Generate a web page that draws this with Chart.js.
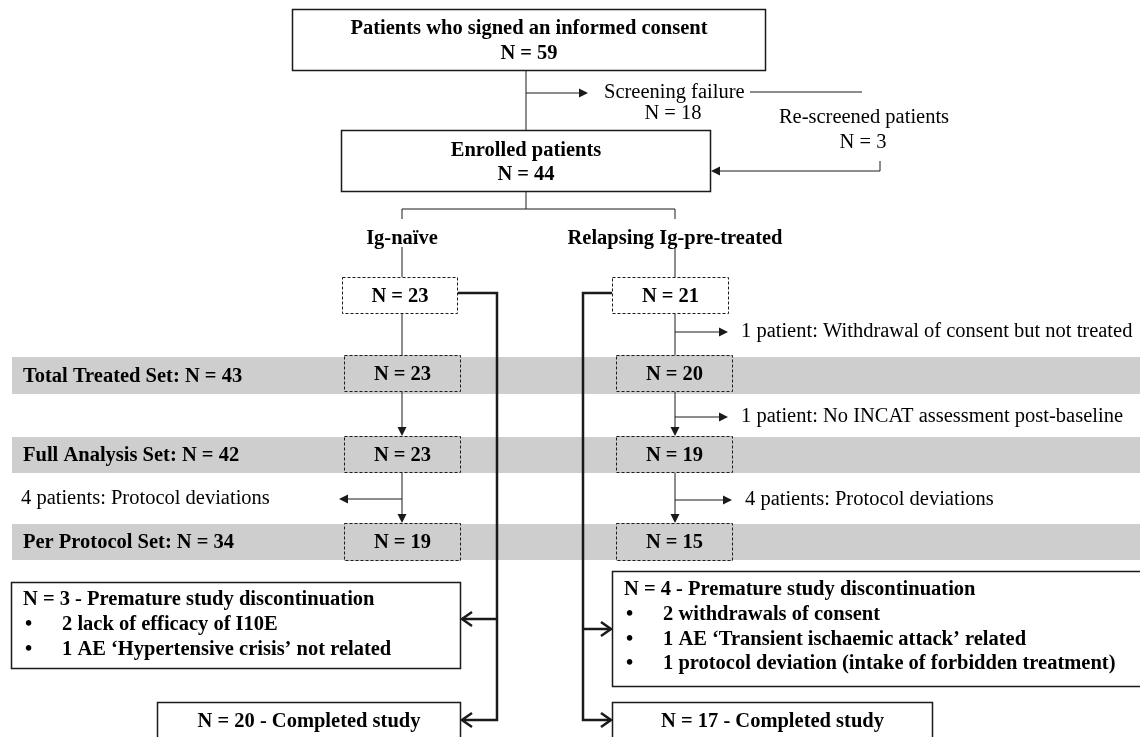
<!DOCTYPE html>
<html>
<head>
<meta charset="utf-8">
<script src="https://cdn.jsdelivr.net/npm/chart.js@4.4.1/dist/chart.umd.min.js"></script>
<style>
  html, body { margin: 0; padding: 0; background: #fff; }
  #wrap { width: 1140px; height: 737px; }
</style>
</head>
<body>
<div id="wrap"><canvas id="flow" width="1140" height="737"></canvas></div>
<script>
// Patient flow numbers
const consentedN = 59;
const screeningFailureN = 18;
const rescreenedN = 3;
const enrolledN = 44;

const arms = ['Ig-naïve', 'Relapsing Ig-pre-treated'];
const armStartN = [23, 21];

const analysisSets = ['Total Treated Set', 'Full Analysis Set', 'Per Protocol Set'];
const analysisSetTotals = [43, 42, 34];
const naiveSetN = [23, 23, 19];
const pretreatedSetN = [20, 19, 15];

// exclusions before each analysis set (null = none)
const naiveExclusions = [null, null, '4 patients: Protocol deviations'];
const pretreatedExclusions = [
  '1 patient: Withdrawal of consent but not treated',
  '1 patient: No INCAT assessment post-baseline',
  '4 patients: Protocol deviations'
];

const discontinuedN = [3, 4];
const naiveReasons = ['2 lack of efficacy of I10E', '1 AE \u2018Hypertensive crisis\u2019 not related'];
const pretreatedReasons = [
  '2 withdrawals of consent',
  '1 AE \u2018Transient ischaemic attack\u2019 related',
  '1 protocol deviation (intake of forbidden treatment)'
];
const completedN = [20, 17];

// Layout (value space of the x/y scales, 0..1140 by 0..737)
const layout = {
  topBox: [292, 9, 766, 71],
  enrolledBox: [341, 130, 711, 192],
  trunkX: 526,
  screenY: 93,
  splitY: 209,
  armX: [402, 675],
  armLabelY: 239,
  armStartBox: [[342, 277, 458, 314], [612, 277, 729, 314]],
  setBoxX: [[344, 461], [616, 733]],
  setRows: [[355, 392], [436, 473], [523, 561]],
  bandRows: [[357, 394], [437, 473], [524, 560]],
  naiveExclY: [null, null, 499],
  pretreatedExclY: [332, 417, 500],
  discBox: [[11, 582, 461, 669], [612, 571, 1150, 687]],
  completedBox: [[157, 702, 461, 750], [612, 702, 933, 750]],
  thickX: [497, 583],
  discArrowY: [619, 629],
  completedArrowY: 720
};

const SERIF = '"Liberation Serif", "Times New Roman", serif';
const FONT_PX = 20.5;
const INK = '#1a1a1a';
const BAND = '#cecece';

const flowPlugin = {
  id: 'flowDiagram',
  beforeDraw(chart) {
    const ctx = chart.ctx;
    ctx.save();
    ctx.fillStyle = '#fff';
    ctx.fillRect(0, 0, chart.width, chart.height);
    ctx.restore();
  },
  afterDraw(chart) {
    const ctx = chart.ctx;
    const sx = chart.scales.x, sy = chart.scales.y;
    const X = v => sx.getPixelForValue(v);
    const Y = v => sy.getPixelForValue(v);

    function line(pts, width) {
      ctx.beginPath();
      ctx.moveTo(X(pts[0][0]), Y(pts[0][1]));
      for (let i = 1; i < pts.length; i++) ctx.lineTo(X(pts[i][0]), Y(pts[i][1]));
      ctx.lineWidth = width || 1;
      ctx.strokeStyle = INK;
      ctx.setLineDash([]);
      ctx.stroke();
    }

    // filled triangle, tip at (x, y)
    function tip(x, y, dir) {
      const px = X(x), py = Y(y);
      ctx.beginPath();
      if (dir === 'right') { ctx.moveTo(px, py); ctx.lineTo(px - 9, py - 4.5); ctx.lineTo(px - 9, py + 4.5); }
      if (dir === 'left') { ctx.moveTo(px, py); ctx.lineTo(px + 9, py - 4.5); ctx.lineTo(px + 9, py + 4.5); }
      if (dir === 'down') { ctx.moveTo(px, py); ctx.lineTo(px - 4.5, py - 9); ctx.lineTo(px + 4.5, py - 9); }
      ctx.closePath();
      ctx.fillStyle = INK;
      ctx.fill();
    }

    // open chevron arrow head
    function chevron(x, y, dir) {
      const px = X(x), py = Y(y);
      const d = dir === 'left' ? 1 : -1;
      ctx.beginPath();
      ctx.moveTo(px + d * 11, py - 7);
      ctx.lineTo(px + d * 1, py);
      ctx.lineTo(px + d * 11, py + 7);
      ctx.lineWidth = 2.5;
      ctx.strokeStyle = INK;
      ctx.setLineDash([]);
      ctx.stroke();
    }

    function rect(b, opts) {
      const x1 = X(b[0]), y1 = Y(b[1]), x2 = X(b[2]), y2 = Y(b[3]);
      if (opts.fill) {
        ctx.fillStyle = opts.fill;
        ctx.fillRect(x1, y1, x2 - x1, y2 - y1);
      }
      ctx.lineWidth = opts.width || 1.5;
      ctx.strokeStyle = INK;
      ctx.setLineDash(opts.dashed ? [3, 2] : []);
      ctx.strokeRect(x1 + 0.5, y1 + 0.5, x2 - x1 - 1, y2 - y1 - 1);
      ctx.setLineDash([]);
    }

    function text(str, x, y, bold, align) {
      ctx.font = (bold ? 'bold ' : '') + FONT_PX + 'px ' + SERIF;
      ctx.fillStyle = '#000';
      ctx.textAlign = align || 'center';
      ctx.textBaseline = 'middle';
      ctx.fillText(str, X(x), Y(y));
    }

    // grey analysis-set bands
    layout.bandRows.forEach((r, i) => {
      ctx.fillStyle = BAND;
      ctx.fillRect(X(12), Y(r[0]), X(1140) - X(12), Y(r[1]) - Y(r[0]));
      text(analysisSets[i] + ': N = ' + analysisSetTotals[i], 23, (r[0] + r[1]) / 2 + 1, true, 'left');
    });

    // top section
    const tb = layout.topBox, eb = layout.enrolledBox, tx = layout.trunkX;
    rect(tb, { fill: '#fff' });
    text('Patients who signed an informed consent', (tb[0] + tb[2]) / 2, 29, true);
    text('N = ' + consentedN, (tb[0] + tb[2]) / 2, 54, true);

    line([[tx, tb[3]], [tx, eb[1]]]);
    line([[tx, layout.screenY], [580, layout.screenY]]);
    tip(588, layout.screenY, 'right');
    text('Screening failure', 604, layout.screenY, false, 'left');
    line([[750, 92], [862, 92]]);
    text('N = ' + screeningFailureN, 673, 114, false);

    text('Re-screened patients', 864, 118, false);
    text('N = ' + rescreenedN, 863, 143, false);
    line([[880, 161], [880, 171], [720, 171]]);
    tip(eb[2], 171, 'left');

    rect(eb, { fill: '#fff' });
    text('Enrolled patients', tx, 151, true);
    text('N = ' + enrolledN, tx, 175, true);

    // split into arms
    const ax = layout.armX;
    line([[tx, eb[3]], [tx, layout.splitY]]);
    line([[ax[0], layout.splitY + 10], [ax[0], layout.splitY], [ax[1], layout.splitY], [ax[1], layout.splitY + 10]]);
    arms.forEach((a, i) => {
      text(a, ax[i], layout.armLabelY, true);
      const sb = layout.armStartBox[i];
      line([[ax[i], 247], [ax[i], sb[1]]]);
    });

    // arm columns
    const armSets = [naiveSetN, pretreatedSetN];
    const armExcl = [naiveExclusions, pretreatedExclusions];
    const armExclY = [layout.naiveExclY, layout.pretreatedExclY];
    arms.forEach((a, i) => {
      const sb = layout.armStartBox[i];
      let prevBottom = sb[3];
      layout.setRows.forEach((r, k) => {
        const cx = ax[i];
        const arrow = k > 0;
        line([[cx, prevBottom], [cx, arrow ? r[0] - 8 : r[0]]]);
        if (arrow) tip(cx, r[0], 'down');
        const ey = armExclY[i][k];
        if (armExcl[i][k] && ey) {
          if (i === 0) {
            line([[cx, ey], [347, ey]]);
            tip(339, ey, 'left');
            text(armExcl[i][k], 21, ey, false, 'left');
          } else {
            const end = k === 2 ? 732 : 728;
            line([[cx, ey], [end - 8, ey]]);
            tip(end, ey, 'right');
            text(armExcl[i][k], end + 13, ey, false, 'left');
          }
        }
        const bx = layout.setBoxX[i];
        rect([bx[0], r[0], bx[1], r[1]], { dashed: true, width: 1, fill: BAND });
        text('N = ' + armSets[i][k], (bx[0] + bx[1]) / 2, (r[0] + r[1]) / 2 + 1, true);
        prevBottom = r[1];
      });
      rect(sb, { dashed: true, width: 1, fill: '#fff' });
      text('N = ' + armStartN[i], (sb[0] + sb[2]) / 2, (sb[1] + sb[3]) / 2 + 1, true);
    });

    // thick routes to discontinuation / completion
    const thx = layout.thickX;
    line([[458, 293], [thx[0], 293], [thx[0], layout.completedArrowY], [462, layout.completedArrowY]], 2.5);
    line([[thx[0], layout.discArrowY[0]], [462, layout.discArrowY[0]]], 2.5);
    chevron(461, layout.discArrowY[0], 'left');
    chevron(461, layout.completedArrowY, 'left');

    line([[612, 293], [thx[1], 293], [thx[1], layout.completedArrowY], [611, layout.completedArrowY]], 2.5);
    line([[thx[1], layout.discArrowY[1]], [611, layout.discArrowY[1]]], 2.5);
    chevron(612, layout.discArrowY[1], 'right');
    chevron(612, layout.completedArrowY, 'right');

    // discontinuation boxes
    const reasons = [naiveReasons, pretreatedReasons];
    const firstLine = [600, 590];
    const step = [25, 24.7];
    layout.discBox.forEach((b, i) => {
      rect(b, { fill: '#fff' });
      const y0 = firstLine[i];
      text('N = ' + discontinuedN[i] + ' - Premature study discontinuation', b[0] + 12, y0, true, 'left');
      reasons[i].forEach((r, k) => {
        const y = y0 + step[i] * (k + 1);
        text('\u2022', b[0] + 14, y, true, 'left');
        text(r, b[0] + 51, y, true, 'left');
      });
    });

    // completed boxes
    layout.completedBox.forEach((b, i) => {
      rect(b, { fill: '#fff' });
      text('N = ' + completedN[i] + ' - Completed study', (b[0] + b[2]) / 2, 722, true);
    });
  }
};

new Chart(document.getElementById('flow'), {
  type: 'scatter',
  data: { datasets: [{ data: [], pointRadius: 0 }] },
  options: {
    responsive: false,
    animation: false,
    events: [],
    layout: { padding: 0 },
    plugins: { legend: { display: false }, tooltip: { enabled: false } },
    scales: {
      x: { type: 'linear', display: false, min: 0, max: 1140 },
      y: { type: 'linear', display: false, min: 0, max: 737, reverse: true }
    }
  },
  plugins: [flowPlugin]
});
</script>
</body>
</html>
